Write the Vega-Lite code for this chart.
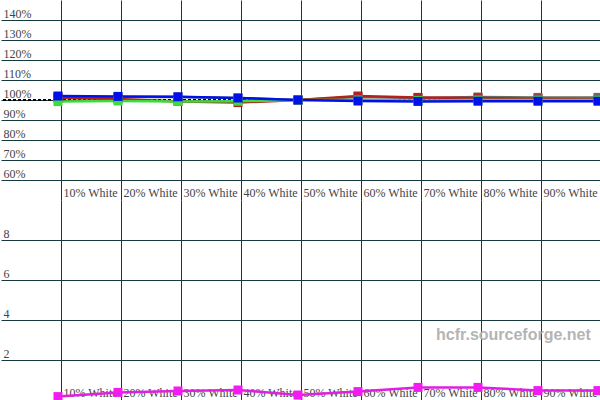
{
  "$schema": "https://vega.github.io/schema/vega-lite/v6.json",
  "padding": 0,
  "spacing": 0,
  "background": "white",
  "config": {
    "view": {"stroke": null},
    "axis": {
      "grid": true, "gridColor": "#173a40", "gridOpacity": 1, "gridWidth": 1,
      "domain": false, "ticks": false, "tickSize": 0, "title": null,
      "labelFont": "Liberation Serif", "labelFontSize": 12, "labelColor": "#444444",
      "labelOverlap": false, "labelBound": false, "labelFlush": false
    }
  },
  "datasets": {
    "levels": [
      {"ire": 10, "series": "Y", "value": 101.5},
      {"ire": 20, "series": "Y", "value": 101.5},
      {"ire": 30, "series": "Y", "value": 101.5},
      {"ire": 40, "series": "Y", "value": 101.0},
      {"ire": 50, "series": "Y", "value": 100.0},
      {"ire": 60, "series": "Y", "value": 101.5},
      {"ire": 70, "series": "Y", "value": 101.0},
      {"ire": 80, "series": "Y", "value": 101.5},
      {"ire": 90, "series": "Y", "value": 101.3},
      {"ire": 100, "series": "Y", "value": 101.3},
      {"ire": 10, "series": "Red", "value": 101.0},
      {"ire": 20, "series": "Red", "value": 100.5},
      {"ire": 30, "series": "Red", "value": 99.3},
      {"ire": 40, "series": "Red", "value": 98.7},
      {"ire": 50, "series": "Red", "value": 100.0},
      {"ire": 60, "series": "Red", "value": 102.0},
      {"ire": 70, "series": "Red", "value": 101.3},
      {"ire": 80, "series": "Red", "value": 101.0},
      {"ire": 90, "series": "Red", "value": 100.5},
      {"ire": 100, "series": "Red", "value": 100.3},
      {"ire": 10, "series": "Green", "value": 99.2},
      {"ire": 20, "series": "Green", "value": 99.5},
      {"ire": 30, "series": "Green", "value": 99.3},
      {"ire": 40, "series": "Green", "value": 99.4},
      {"ire": 50, "series": "Green", "value": 100.0},
      {"ire": 60, "series": "Green", "value": 100.0},
      {"ire": 70, "series": "Green", "value": 99.8},
      {"ire": 80, "series": "Green", "value": 100.0},
      {"ire": 90, "series": "Green", "value": 100.0},
      {"ire": 100, "series": "Green", "value": 100.0},
      {"ire": 10, "series": "Blue", "value": 102.0},
      {"ire": 20, "series": "Blue", "value": 101.8},
      {"ire": 30, "series": "Blue", "value": 101.6},
      {"ire": 40, "series": "Blue", "value": 101.0},
      {"ire": 50, "series": "Blue", "value": 100.0},
      {"ire": 60, "series": "Blue", "value": 99.5},
      {"ire": 70, "series": "Blue", "value": 99.3},
      {"ire": 80, "series": "Blue", "value": 99.4},
      {"ire": 90, "series": "Blue", "value": 99.4},
      {"ire": 100, "series": "Blue", "value": 99.4}
    ],
    "deltae": [
      {"ire": 10, "de": 0.17},
      {"ire": 20, "de": 0.38},
      {"ire": 30, "de": 0.45},
      {"ire": 40, "de": 0.5},
      {"ire": 50, "de": 0.25},
      {"ire": 60, "de": 0.42},
      {"ire": 70, "de": 0.63},
      {"ire": 80, "de": 0.63},
      {"ire": 90, "de": 0.47},
      {"ire": 100, "de": 0.47}
    ]
  },
  "vconcat": [
    {
      "width": 600,
      "height": 200,
      "layer": [
        {
          "data": {"name": "levels"},
          "mark": {"type": "rule", "color": "black", "strokeDash": [3, 2], "strokeWidth": 1},
          "encoding": {"y": {"datum": 100, "type": "quantitative",
                             "scale": {"domain": [50, 150], "nice": false, "zero": false},
                             "axis": {"values": [60, 70, 80, 90, 100, 110, 120, 130, 140],
                                      "labelExpr": "datum.value + '%'", "labelOverlap": false,
                                      "labelAlign": "left", "labelBaseline": "bottom", "labelPadding": -2}}}
        },
        {
          "data": {"name": "levels"},
          "mark": {"type": "line", "strokeWidth": 2.5, "point": {"shape": "square", "filled": true, "size": 81, "opacity": 1}},
          "encoding": {
            "x": {"field": "ire", "type": "quantitative",
                  "scale": {"domain": [0.5, 100.5], "nice": false, "zero": false},
                  "axis": {"values": [10.5, 20.5, 30.5, 40.5, 50.5, 60.5, 70.5, 80.5, 90.5],
                           "labelExpr": "floor(datum.value) + '% White'",
                           "labelAlign": "left", "labelOffset": 2, "labelOverlap": false,
                           "labelBaseline": "alphabetic", "labelPadding": -4}},
            "y": {"field": "value", "type": "quantitative",
                  "scale": {"domain": [50, 150], "nice": false, "zero": false},
                  "axis": {"values": [60, 70, 80, 90, 100, 110, 120, 130, 140],
                           "labelExpr": "datum.value + '%'", "labelOverlap": false,
                           "labelAlign": "left", "labelBaseline": "bottom", "labelPadding": -2}},
            "color": {"field": "series", "type": "nominal",
                      "scale": {"domain": ["Y", "Red", "Green", "Blue"], "range": ["#6a6a6a", "#b42020", "#3cdc3c", "#0010e8"]},
                      "legend": null}
          }
        }
      ]
    },
    {
      "width": 600,
      "height": 200,
      "layer": [
        {
          "data": {"name": "deltae"},
          "mark": {"type": "line", "color": "#e020e0", "strokeWidth": 2.5, "point": {"shape": "square", "filled": true, "size": 81, "color": "#f01cf0"}},
          "encoding": {
            "x": {"field": "ire", "type": "quantitative",
                  "scale": {"domain": [0.5, 100.5], "nice": false, "zero": false},
                  "axis": {"values": [10.5, 20.5, 30.5, 40.5, 50.5, 60.5, 70.5, 80.5, 90.5],
                           "labelExpr": "floor(datum.value) + '% White'",
                           "labelAlign": "left", "labelOffset": 2, "labelOverlap": false,
                           "labelBaseline": "alphabetic", "labelPadding": -4}},
            "y": {"field": "de", "type": "quantitative",
                  "scale": {"domain": [0, 10], "nice": false, "zero": false},
                  "axis": {"values": [2, 4, 6, 8], "labelOverlap": false,
                           "labelAlign": "left", "labelBaseline": "bottom", "labelPadding": -2}}
          }
        },
        {
          "data": {"values": [{"text": "hcfr.sourceforge.net"}]},
          "mark": {"type": "text", "font": "Liberation Sans", "fontWeight": "bold", "fontSize": 16, "color": "#b4b4b4", "align": "right", "baseline": "middle"},
          "encoding": {
            "text": {"field": "text"},
            "x": {"datum": 98.8, "type": "quantitative"},
            "y": {"datum": 3.25, "type": "quantitative"}
          }
        }
      ]
    }
  ]
}
